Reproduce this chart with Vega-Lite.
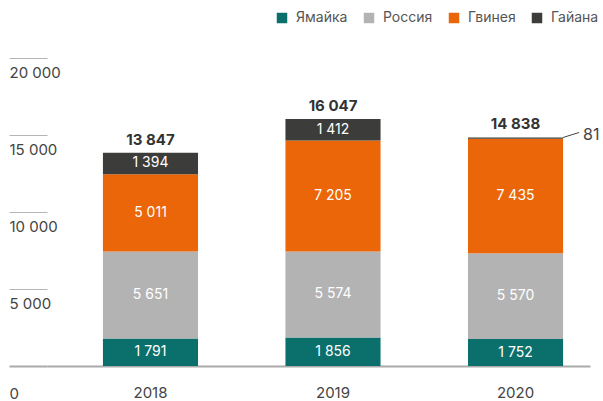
{
  "$schema": "https://vega.github.io/schema/vega-lite/v6.json",
  "autosize": {"type": "none"},
  "width": 543,
  "height": 308,
  "padding": {"left": 47, "top": 58, "right": 13, "bottom": 35},
  "background": "#ffffff",
  "config": {
    "font": "Inter",
    "view": {"stroke": null},
    "locale": {"number": {"decimal": ",", "thousands": "\u00a0", "grouping": [3], "currency": ["", ""]}}
  },
  "data": {
    "values": [
      {"year": "2018", "series": "Ямайка", "order": 1, "value": 1791},
      {"year": "2018", "series": "Россия", "order": 2, "value": 5651},
      {"year": "2018", "series": "Гвинея", "order": 3, "value": 5011},
      {"year": "2018", "series": "Гайана", "order": 4, "value": 1394},
      {"year": "2019", "series": "Ямайка", "order": 1, "value": 1856},
      {"year": "2019", "series": "Россия", "order": 2, "value": 5574},
      {"year": "2019", "series": "Гвинея", "order": 3, "value": 7205},
      {"year": "2019", "series": "Гайана", "order": 4, "value": 1412},
      {"year": "2020", "series": "Ямайка", "order": 1, "value": 1752},
      {"year": "2020", "series": "Россия", "order": 2, "value": 5570},
      {"year": "2020", "series": "Гвинея", "order": 3, "value": 7435},
      {"year": "2020", "series": "Гайана", "order": 4, "value": 81}
    ]
  },
  "transform": [
    {"stack": "value", "groupby": ["year"], "sort": [{"field": "order", "order": "ascending"}], "as": ["y0", "y1"]},
    {"calculate": "(datum.y0 + datum.y1) / 2", "as": "mid"}
  ],
  "encoding": {
    "x": {
      "field": "year", "type": "nominal",
      "scale": {"paddingInner": 0.479, "paddingOuter": 0.227, "align": 0.675},
      "axis": {
        "title": null, "labelAngle": 0, "ticks": false,
        "domain": true, "domainColor": "#aaaaaa", "domainWidth": 2,
        "labelPadding": 19, "labelFontSize": 15, "labelColor": "#444444"
      }
    }
  },
  "layer": [
    {
      "mark": {"type": "bar"},
      "encoding": {
        "y": {
          "field": "y0", "type": "quantitative",
          "scale": {"domain": [0, 20000], "nice": false},
          "axis": {
            "title": null, "grid": false, "domain": false,
            "values": [0, 5000, 10000, 15000, 20000],
            "tickSize": 38,
            "tickColor": {"condition": {"test": "datum.value == 0", "value": "#aaaaaa"}, "value": "#b5b5b5"},
            "tickWidth": {"condition": {"test": "datum.value == 0", "value": 2}, "value": 1},
            "labelAlign": "left", "labelBaseline": "middle", "labelPadding": 0,
            "labelOffset": {"condition": {"test": "datum.value == 0", "value": 27}, "value": 14},
            "labelFontSize": 15, "labelColor": "#444444"
          }
        },
        "y2": {"field": "y1"},
        "color": {
          "field": "series", "type": "nominal",
          "scale": {"domain": ["Ямайка", "Россия", "Гвинея", "Гайана"], "range": ["#0b706b", "#b3b3b3", "#eb6608", "#3c3c3b"]},
          "legend": {
            "title": null, "orient": "none", "direction": "horizontal",
            "legendX": 228, "legendY": -47,
            "symbolType": "square", "symbolSize": 110, "symbolStrokeWidth": 0,
            "labelFontSize": 14, "labelColor": "#555555", "labelOffset": 7,
            "columnPadding": 14
          }
        }
      }
    },
    {
      "transform": [{"filter": "datum.value >= 500"}],
      "mark": {"type": "text", "color": "#ffffff", "fontSize": 14, "baseline": "middle"},
      "encoding": {
        "y": {"field": "mid", "type": "quantitative"},
        "text": {"field": "value", "type": "quantitative", "format": ",d"}
      }
    },
    {
      "transform": [{"filter": "datum.value < 500"}],
      "mark": {"type": "text", "color": "#444444", "fontSize": 16, "align": "left", "baseline": "middle", "dx": 20, "dy": -2},
      "encoding": {
        "x": {"field": "year", "type": "nominal", "bandPosition": 1},
        "y": {"field": "y1", "type": "quantitative"},
        "text": {"field": "value", "type": "quantitative", "format": ",d"}
      }
    },
    {
      "transform": [{"filter": "datum.value < 500"}],
      "mark": {"type": "rule", "color": "#444444", "strokeWidth": 1, "x2Offset": 16, "y2Offset": -5},
      "encoding": {
        "x": {"field": "year", "type": "nominal", "bandPosition": 1},
        "x2": {"field": "year", "bandPosition": 1},
        "y": {"field": "y1", "type": "quantitative"},
        "y2": {"field": "y1"}
      }
    },
    {
      "transform": [{"aggregate": [{"op": "sum", "field": "value", "as": "total"}], "groupby": ["year"]}],
      "mark": {"type": "text", "color": "#333333", "fontSize": 15, "fontWeight": "bold", "baseline": "bottom", "dy": -5},
      "encoding": {
        "y": {"field": "total", "type": "quantitative"},
        "text": {"field": "total", "type": "quantitative", "format": ",d"}
      }
    }
  ]
}
